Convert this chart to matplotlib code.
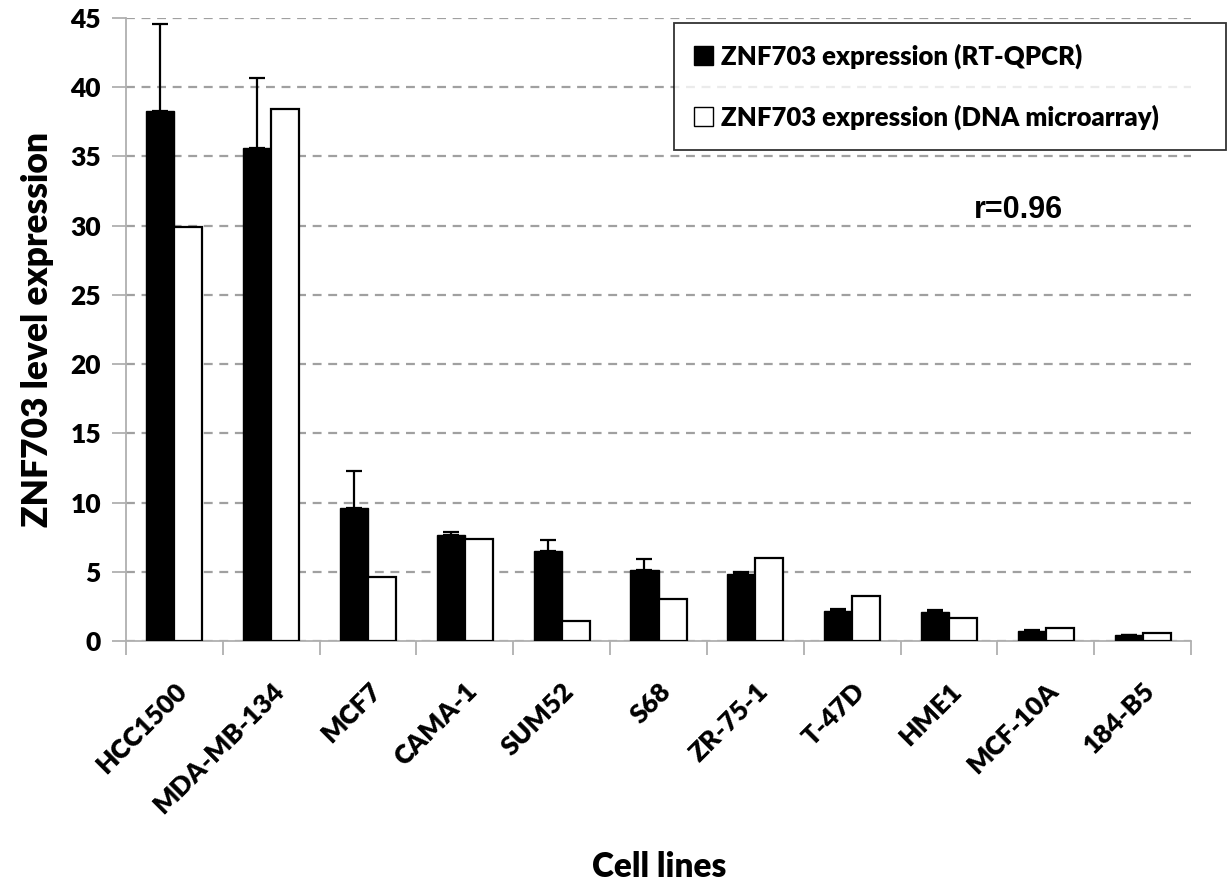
import matplotlib
matplotlib.use("Agg")
import matplotlib.pyplot as plt
import numpy as np
from matplotlib.patches import Patch

cell_lines = ["HCC1500", "MDA-MB-134", "MCF7", "CAMA-1", "SUM52", "S68",
              "ZR-75-1", "T-47D", "HME1", "MCF-10A", "184-B5"]
rt_qpcr = [38.3, 35.6, 9.6, 7.65, 6.5, 5.1, 4.85, 2.15, 2.1, 0.72, 0.4]
rt_qpcr_err = [6.3, 5.1, 2.65, 0.25, 0.8, 0.85, 0.12, 0.15, 0.12, 0.04, 0.03]
microarray = [29.9, 38.4, 4.65, 7.4, 1.45, 3.05, 6.0, 3.25, 1.65, 0.92, 0.56]
y_ticks = [0, 5, 10, 15, 20, 25, 30, 35, 40, 45]

FONT = "Lato"
WEIGHT = "heavy"
plt.rcParams["font.family"] = [FONT, "DejaVu Sans"]
plt.rcParams["font.weight"] = WEIGHT

fig = plt.figure(figsize=(12.28, 8.85), dpi=100)
ax = fig.add_axes([0.1026, 0.2757, 0.8673, 0.704])

x = np.arange(len(cell_lines))
w = 0.29
ax.bar(x - w / 2, rt_qpcr, w, color="black", edgecolor="black", linewidth=1.0,
       yerr=[np.zeros(len(rt_qpcr)), rt_qpcr_err],
       error_kw=dict(ecolor="black", elinewidth=1.6, capsize=6, capthick=1.6),
       label="ZNF703 expression (RT-QPCR)", zorder=3)
ax.bar(x + w / 2, microarray, w, color="white", edgecolor="black", linewidth=1.6,
       label="ZNF703 expression (DNA microarray)", zorder=3)

ax.set_xlim(-0.5, len(cell_lines) - 0.5)
ax.set_ylim(0, 45)
ax.set_yticks(y_ticks)
ax.yaxis.grid(True, linestyle=(0, (4, 3)), color="#a0a0a0", linewidth=1.6)
ax.set_axisbelow(True)

for s in ["top", "right"]:
    ax.spines[s].set_visible(False)
for s in ["left", "bottom"]:
    ax.spines[s].set_color("#b0b0b0")
    ax.spines[s].set_linewidth(1.3)

ax.set_xticks(np.arange(len(cell_lines) + 1) - 0.5, minor=False)
ax.set_xticklabels([])
ax.set_xticks(x, minor=True)
ax.set_xticklabels(cell_lines, minor=True, rotation=45, ha="right",
                   rotation_mode="anchor", fontsize=19, fontweight=WEIGHT)
ax.tick_params(axis="x", which="minor", length=0, pad=27)
ax.tick_params(axis="x", which="major", length=10, color="#b0b0b0", width=1.3)
ax.tick_params(axis="y", length=10, color="#b0b0b0", width=1.3, labelsize=19, pad=8)
for lab in ax.get_yticklabels():
    lab.set_fontweight(WEIGHT)

ax.set_ylabel("ZNF703 level expression", fontsize=25.5, fontweight=WEIGHT, labelpad=12)
fig.text(0.537, 0.009, "Cell lines", ha="center", va="baseline", fontsize=24, fontweight=WEIGHT)

ax.text(8.72, 31.1, "r=0.96", ha="center", va="center", fontsize=22,
        fontweight="bold", family="Liberation Sans")

handles = [Patch(facecolor="black", edgecolor="black"),
           Patch(facecolor="white", edgecolor="black", linewidth=1.0)]
leg = fig.legend(handles, ["ZNF703 expression (RT-QPCR)", "ZNF703 expression (DNA microarray)"],
                 loc="upper left", bbox_to_anchor=(0.549, 0.834, 0.449, 0.14),
                 mode="expand", frameon=True,
                 fancybox=False, edgecolor="black", fontsize=18.5, handlelength=0.75,
                 handleheight=0.75, handletextpad=0.3, labelspacing=1.4,
                 borderpad=0.78, borderaxespad=0)
leg.get_frame().set_linewidth(1.3)
for t in leg.get_texts():
    t.set_fontweight(WEIGHT)

fig.savefig("out.png", dpi=100)
